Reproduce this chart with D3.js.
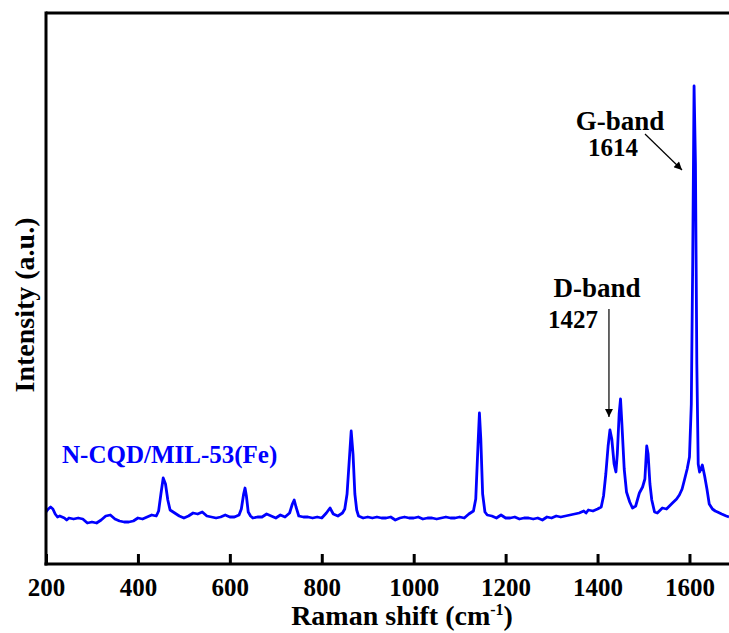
<!DOCTYPE html>
<html>
<head>
<meta charset="utf-8">
<script src="https://cdn.jsdelivr.net/npm/d3@7"></script>
<style>
  html, body { margin: 0; padding: 0; background: #fff; }
  svg { display: block; }
  text { font-family: "Liberation Serif", "Times New Roman", serif; font-weight: bold; }
</style>
</head>
<body>
<svg id="chart" width="729" height="633"></svg>
<script>
// Raman shift (cm-1) sampled points
const ramanShift = [
  200,205,210,215,220,225,230,240,245,250,260,270,280,290,300,310,320,330,340,350,
  360,370,380,390,400,410,420,430,440,445,450,455,460,465,470,480,490,500,510,520,
  530,540,550,560,570,580,590,600,610,620,625,630,633,636,640,645,650,660,670,680,
  690,700,710,720,730,736,740,744,750,760,770,780,790,800,810,818,825,835,845,850,
  855,860,864,868,872,876,880,890,900,910,920,930,940,950,960,970,980,990,1000,1010,
  1020,1030,1040,1050,1060,1070,1080,1090,1100,1110,1120,1130,1135,1140,1143,1146,1150,1155,1160,1170,
  1180,1190,1200,1210,1220,1230,1240,1250,1260,1270,1280,1290,1300,1310,1320,1330,1340,1350,1360,1370,
  1375,1380,1390,1400,1408,1413,1418,1423,1427,1431,1436,1440,1443,1447,1450,1453,1458,1463,1470,1476,
  1483,1491,1498,1503,1507,1510,1514,1518,1524,1530,1541,1550,1563,1572,1578,1584,1589,1595,1600,1604,
  1607,1610,1613,1616,1619,1622,1625,1628,1633,1638,1643,1650,1656,1661,1670,1680,1686
];
// Intensity (a.u.) at each point
const intensity = [
  52,55,57,55,50,47,48,46,44,46,45,46,45,41,42,41,44,48,49,45,
  43,42,42,43,46,45,47,49,48,53,70,86,80,64,54,51,48,46,48,51,
  50,52,48,47,46,47,49,47,47,49,55,70,76,68,52,48,46,47,47,50,
  48,46,49,47,51,60,64,57,48,47,47,46,47,46,51,56,50,48,51,55,
  70,105,133,110,70,54,48,46,47,46,47,46,46,47,44,46,47,46,46,47,
  45,46,46,45,46,47,46,46,47,46,50,53,65,120,151,125,70,52,49,48,
  46,49,46,46,47,45,46,46,45,46,44,47,46,48,47,48,49,50,51,53,
  51,54,53,55,57,68,90,118,134,125,100,92,110,150,165,140,95,72,62,56,
  58,71,77,85,118,110,80,64,52,51,56,55,61,65,69,75,84,95,107,160,
  300,478,400,200,100,92,95,99,88,75,60,55,53,52,50,48,47
];
const xTicks = [200, 400, 600, 800, 1000, 1200, 1400, 1600];
const sampleLabel = "N-CQD/MIL-53(Fe)";
const bandLabels = ["G-band", "D-band"];
const bandPositions = [1614, 1427];

const svg = d3.select("#chart");
const pLeft = 46, pTop = 13, pBottom = 564, pRight = 729;

const x = d3.scaleLinear().domain([200, 1686]).range([pLeft, pRight]);
const y = d3.scaleLinear().domain([0, 551]).range([pBottom, pTop]);

const defs = svg.append("defs");
defs.append("clipPath").attr("id", "clip")
  .append("rect").attr("x", pLeft).attr("y", pTop).attr("width", pRight - pLeft + 10).attr("height", pBottom - pTop);
defs.append("marker").attr("id", "arrowG")
  .attr("viewBox", "0 0 10 10").attr("refX", 10).attr("refY", 5)
  .attr("markerWidth", 13).attr("markerHeight", 8).attr("markerUnits", "userSpaceOnUse")
  .attr("orient", "auto")
  .append("path").attr("d", "M0,0 L10,5 L0,10 Z").attr("fill", "#000");

// Spectrum line
const data = ramanShift.map((r, i) => [r, intensity[i]]);
const line = d3.line().x(d => x(d[0])).y(d => y(d[1])).curve(d3.curveLinear);
svg.append("path")
  .datum(data)
  .attr("clip-path", "url(#clip)")
  .attr("d", line)
  .attr("fill", "none")
  .attr("stroke", "#0000ff")
  .attr("stroke-width", 2.8)
  .attr("stroke-linejoin", "round");

// Frame
svg.append("line").attr("x1", pLeft).attr("x2", pRight + 5).attr("y1", pTop).attr("y2", pTop)
  .attr("stroke", "#000").attr("stroke-width", 3);
svg.append("line").attr("x1", pLeft).attr("x2", pLeft).attr("y1", pTop - 1.5).attr("y2", pBottom + 1.5)
  .attr("stroke", "#000").attr("stroke-width", 3);

// X axis
const xAxis = d3.axisBottom(x).tickValues(xTicks).tickFormat(d3.format("d"))
  .tickSizeInner(-10).tickSizeOuter(0).tickPadding(24);
const gx = svg.append("g").attr("transform", `translate(0,${pBottom})`).call(xAxis);
gx.select(".domain").attr("stroke-width", 3).attr("d", `M${pLeft - 1.5},0H${pRight + 5}`);
gx.selectAll(".tick line").attr("stroke-width", 3);
gx.selectAll(".tick text")
  .attr("font-size", 25).attr("font-family", "Liberation Serif, serif").attr("font-weight", "bold")
  .attr("fill", "#000").attr("dy", 0).attr("y", 32);

// Axis titles
const xt = svg.append("text").attr("x", 402).attr("y", 625).attr("text-anchor", "middle")
  .attr("font-size", 28).attr("fill", "#000");
xt.append("tspan").text("Raman shift (cm");
xt.append("tspan").attr("font-size", 16).attr("dy", -10).text("-1");
xt.append("tspan").attr("dy", 10).text(")");

svg.append("text").attr("transform", "translate(34,305) rotate(-90)")
  .attr("text-anchor", "middle").attr("font-size", 28).attr("fill", "#000")
  .text("Intensity (a.u.)");

// Sample label
svg.append("text").attr("x", 62).attr("y", 463).attr("font-size", 25)
  .attr("fill", "#0000ff").text(sampleLabel);

// G-band annotation
svg.append("text").attr("x", 620).attr("y", 130).attr("text-anchor", "middle")
  .attr("font-size", 27).attr("fill", "#000").text(bandLabels[0]);
svg.append("text").attr("x", 613).attr("y", 156).attr("text-anchor", "middle")
  .attr("font-size", 25).attr("fill", "#000").text(bandPositions[0]);
svg.append("line").attr("x1", 645).attr("y1", 134).attr("x2", 682).attr("y2", 170)
  .attr("stroke", "#000").attr("stroke-width", 1.2).attr("marker-end", "url(#arrowG)");

// D-band annotation
svg.append("text").attr("x", 597).attr("y", 297).attr("text-anchor", "middle")
  .attr("font-size", 27).attr("fill", "#000").text(bandLabels[1]);
svg.append("text").attr("x", 573).attr("y", 328).attr("text-anchor", "middle")
  .attr("font-size", 25).attr("fill", "#000").text(bandPositions[1]);
svg.append("line").attr("x1", x(1427) - 1).attr("y1", 309).attr("x2", x(1427) - 1).attr("y2", 417)
  .attr("stroke", "#000").attr("stroke-width", 1.2).attr("marker-end", "url(#arrowG)");
</script>
</body>
</html>
